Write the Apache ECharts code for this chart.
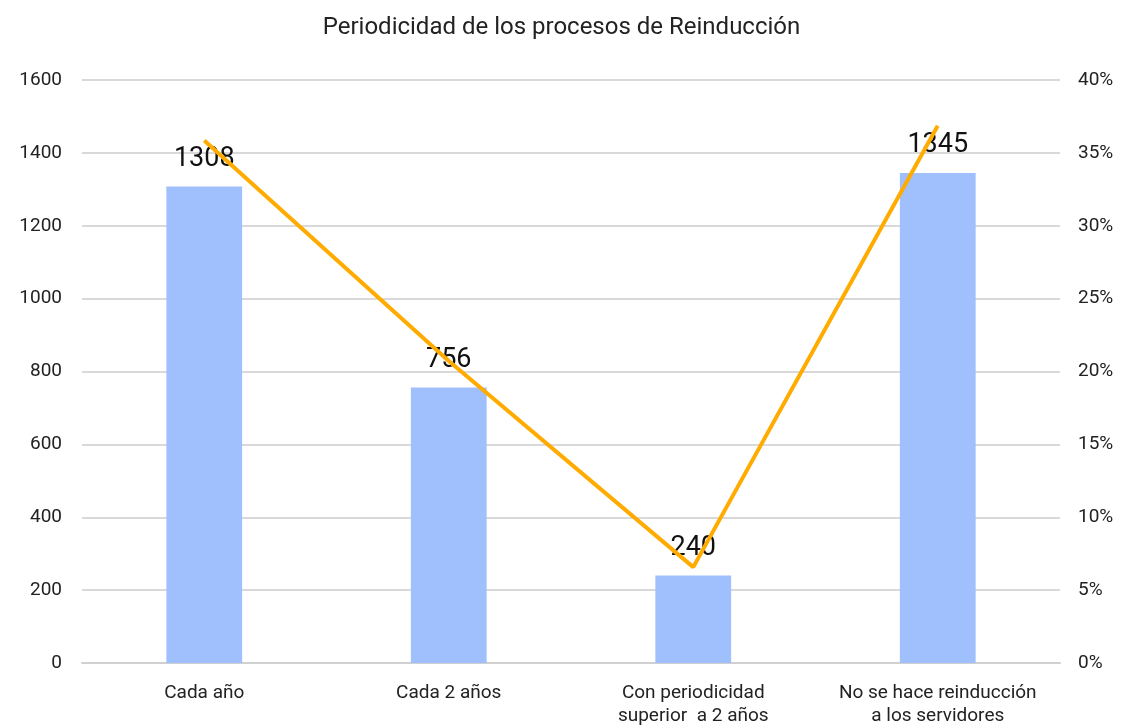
<!DOCTYPE html>
<html>
<head>
<meta charset="utf-8">
<script src="https://cdn.jsdelivr.net/npm/echarts@6/dist/echarts.min.js"></script>
<style>
  html, body { margin: 0; padding: 0; background: #fff; }
  #chart { width: 1123px; height: 728px; }
</style>
</head>
<body>
<div id="chart"></div>
<script>
// categorías y valores
const categories = ['Cada año', 'Cada 2 años', 'Con periodicidad\nsuperior  a 2 años', 'No se hace reinducción\na los servidores']
const counts = [1308, 756, 240, 1345]
// porcentaje de cada categoría sobre el total
const total = counts.reduce((a, b) => a + b, 0)
const shares = counts.map(v => v / total)

const chart = echarts.init(document.getElementById('chart'))
const font = 'Roboto, "Noto Sans", sans-serif'

const option = {
    animation: false,
    title: {
        text: 'Periodicidad de los procesos de Reinducción',
        left: 'center',
        top: 11,
        textStyle: { fontFamily: font, fontSize: 24, fontWeight: 'normal', color: '#222' }
    },
    grid: { left: 82, right: 63, top: 80, bottom: 65 },
    xAxis: {
        type: 'category',
        data: categories,
        axisLine: { lineStyle: { color: '#d0d0d0', width: 2 } },
        axisTick: { show: false },
        axisLabel: { interval: 0, fontFamily: font, fontSize: 19, color: '#222', lineHeight: 23, margin: 19 }
    },
    yAxis: [{
        type: 'value',
        min: 0,
        max: 1600,
        interval: 200,
        axisLine: { show: false },
        axisTick: { show: false },
        axisLabel: { fontFamily: font, fontSize: 19, color: '#222', margin: 20, formatter: v => String(v) },
        splitLine: { lineStyle: { color: '#d9d9d9', width: 2 } }
    }, {
        type: 'value',
        min: 0,
        max: 0.4,
        interval: 0.05,
        axisLine: { show: false },
        axisTick: { show: false },
        splitLine: { show: false },
        axisLabel: {
            fontFamily: font, fontSize: 19, color: '#222', margin: 18,
            formatter: v => Math.round(v * 100) + '%'
        }
    }],
    series: [{
        type: 'bar',
        data: counts,
        barWidth: '31%',
        itemStyle: { color: '#9fc0fc' },
        label: {
            show: true,
            position: 'top',
            distance: 14,
            fontFamily: font,
            fontSize: 27,
            color: '#111'
        }
    }, {
        type: 'line',
        yAxisIndex: 1,
        data: shares,
        showSymbol: false,
        lineStyle: { color: '#ffab00', width: 4 },
        itemStyle: { color: '#ffab00' }
    }]
}
chart.setOption(option)
</script>
</body>
</html>
